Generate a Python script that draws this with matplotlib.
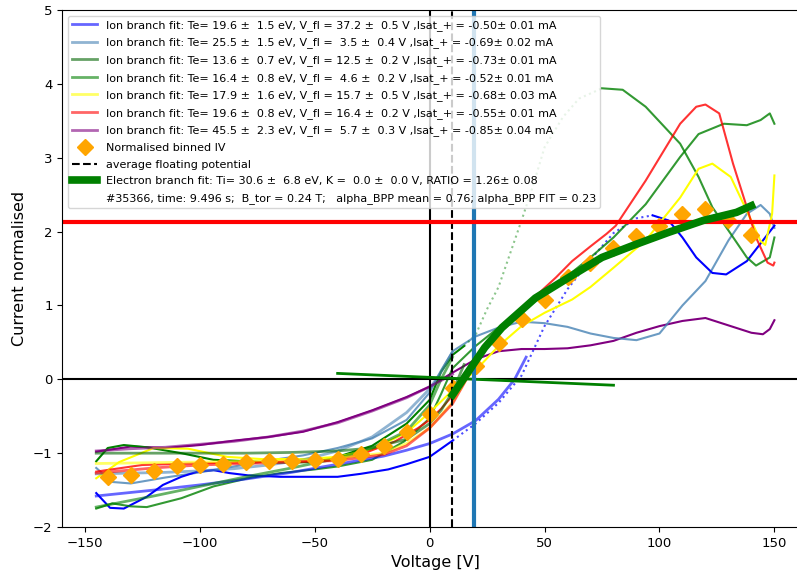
import matplotlib
matplotlib.use("Agg")
import matplotlib.pyplot as plt
from matplotlib.lines import Line2D

# ---- measured IV data (normalised current) ----
blue_v = [-145, -139, -133, -123, -116, -108, -101, -94, -87, -79, -65, -50, -40, -30, -18, -10, 0, 10, 20, 30, 40, 50, 60, 70, 80, 90, 97, 104, 110, 116, 123, 129, 138, 145, 150]
blue_i = [-1.54, -1.74, -1.75, -1.59, -1.43, -1.32, -1.25, -1.23, -1.27, -1.30, -1.32, -1.32, -1.32, -1.28, -1.22, -1.15, -1.05, -0.83, -0.60, -0.32, 0.05, 0.72, 1.22, 1.62, 1.98, 2.18, 2.22, 2.15, 1.92, 1.65, 1.44, 1.42, 1.60, 1.88, 2.08]

steel_v = [-145, -138, -130, -115, -100, -85, -70, -55, -40, -25, -10, 0, 5, 10, 20, 30, 40, 50, 60, 70, 80, 90, 100, 110, 120, 130, 138, 144, 148, 150]
steel_i = [-1.20, -1.39, -1.41, -1.33, -1.26, -1.18, -1.10, -1.03, -0.93, -0.80, -0.55, -0.18, 0.12, 0.38, 0.58, 0.70, 0.78, 0.76, 0.71, 0.62, 0.56, 0.53, 0.62, 1.00, 1.33, 1.88, 2.24, 2.36, 2.24, 2.05]

green1_v = [-145, -140, -133, -123, -108, -94, -79, -65, -50, -40, -25, -10, 0, 5, 10, 15, 20, 25, 30, 35, 40, 45, 50, 58, 65, 75, 84, 94, 109, 117, 123, 131, 138, 142, 148, 150]
green1_i = [-1.11, -0.93, -0.89, -0.92, -1.00, -1.09, -1.11, -1.13, -1.12, -1.05, -0.90, -0.60, -0.28, 0.10, 0.33, 0.45, 0.60, 0.95, 1.25, 1.70, 2.15, 2.62, 3.14, 3.55, 3.80, 3.94, 3.92, 3.69, 3.19, 2.74, 2.33, 1.97, 1.65, 1.54, 1.65, 1.92]

green2_v = [-145, -138, -130, -123, -108, -94, -79, -65, -50, -40, -25, -11, 0, 5, 10, 20, 30, 40, 50, 60, 70, 80, 94, 109, 117, 128, 138, 144, 148, 150]
green2_i = [-1.75, -1.68, -1.72, -1.73, -1.61, -1.45, -1.34, -1.27, -1.22, -1.18, -1.09, -0.84, -0.53, -0.20, 0.15, 0.45, 0.70, 0.92, 1.15, 1.40, 1.65, 1.92, 2.37, 3.01, 3.32, 3.46, 3.44, 3.51, 3.60, 3.46]

yellow_v = [-145, -135, -120, -105, -88, -73, -55, -40, -25, -10, 0, 10, 20, 30, 40, 50, 62, 70, 80, 94, 109, 117, 123, 131, 138, 144, 146, 149, 150]
yellow_i = [-1.34, -1.12, -0.93, -0.94, -1.05, -1.08, -1.08, -1.05, -0.95, -0.72, -0.45, -0.15, 0.12, 0.45, 0.72, 0.90, 1.08, 1.25, 1.51, 1.88, 2.46, 2.85, 2.92, 2.74, 2.28, 1.87, 1.82, 2.24, 2.76]

red_v = [-145, -125, -103, -73, -44, -30, -15, -5, 0, 5, 10, 15, 20, 25, 33, 40, 47, 55, 62, 70, 77, 81, 94, 109, 116, 120, 126, 132, 138, 142, 147, 149.5, 150]
red_i = [-1.25, -1.16, -1.14, -1.12, -1.10, -1.02, -0.84, -0.66, -0.55, -0.40, -0.22, 0.02, 0.30, 0.50, 0.70, 0.90, 1.15, 1.38, 1.60, 1.80, 1.97, 2.08, 2.69, 3.46, 3.69, 3.72, 3.60, 2.92, 2.33, 1.92, 1.58, 1.54, 1.58]

purple_v = [-145, -130, -115, -100, -85, -70, -55, -40, -25, -10, 0, 10, 20, 30, 40, 50, 60, 70, 80, 90, 100, 110, 120, 130, 140, 145, 148, 150]
purple_i = [-0.98, -0.91, -0.93, -0.89, -0.83, -0.78, -0.71, -0.58, -0.42, -0.24, -0.10, 0.09, 0.27, 0.38, 0.41, 0.41, 0.42, 0.46, 0.52, 0.63, 0.72, 0.79, 0.83, 0.73, 0.63, 0.61, 0.68, 0.80]

# ---- ion branch fits ----
fit_blue_v = [-145, -120, -100, -80, -60, -40, -20, -10, 0, 10, 20, 30, 37, 42]
fit_blue_i = [-1.58, -1.50, -1.43, -1.35, -1.26, -1.15, -1.04, -0.96, -0.87, -0.74, -0.56, -0.27, 0.0, 0.30]
fit_steel_v = [-145, -130, -115, -100, -85, -70, -55, -40, -25, -10, 0, 5, 10]
fit_steel_i = [-1.28, -1.27, -1.26, -1.24, -1.21, -1.16, -1.09, -0.97, -0.78, -0.45, -0.13, 0.10, 0.37]
fit_dgreen_v = [-145, -120, -100, -80, -60, -40, -25, -10, 0, 5, 10, 15]
fit_dgreen_i = [-1.0, -1.0, -1.0, -1.0, -0.99, -0.97, -0.93, -0.81, -0.60, -0.42, -0.17, 0.20]
fit_green_v = [-145, -120, -100, -80, -60, -40, -25, -10, 0, 5, 10]
fit_green_i = [-1.73, -1.58, -1.45, -1.32, -1.20, -1.07, -0.93, -0.70, -0.35, 0.0, 0.30]
fit_yellow_v = [-145, -100, -60, -40, -20, -10, 0, 10, 15, 18]
fit_yellow_i = [-1.14, -1.12, -1.10, -1.07, -1.0, -0.87, -0.66, -0.31, -0.05, 0.12]
fit_red_v = [-145, -120, -100, -80, -60, -40, -20, -10, 0, 10, 16, 20]
fit_red_i = [-1.27, -1.20, -1.16, -1.14, -1.12, -1.10, -1.02, -0.90, -0.66, -0.33, 0.0, 0.22]
fit_purple_v = [-145, -130, -115, -100, -85, -70, -55, -40, -25, -10, 0, 6, 10]
fit_purple_i = [-0.97, -0.94, -0.92, -0.88, -0.84, -0.78, -0.70, -0.59, -0.43, -0.25, -0.10, 0.0, 0.07]

# binned IV
bin_v = list(range(-140, 150, 10))
bin_i = [-1.32, -1.29, -1.24, -1.18, -1.16, -1.15, -1.12, -1.11, -1.10, -1.09, -1.08, -1.01, -0.90, -0.71, -0.47,
         -0.12, 0.18, 0.49, 0.82, 1.08, 1.38, 1.58, 1.78, 1.94, 2.07, 2.24, 2.31, 2.16, 1.96]

# electron branch fit
el_v = [10, 17, 24, 31.5, 46, 60.6, 75, 90, 104, 119, 133.5, 140]
el_i = [-0.21, 0.11, 0.43, 0.70, 1.10, 1.38, 1.65, 1.83, 1.99, 2.15, 2.26, 2.35]

slope_v = [-40, 80]
slope_i = [0.08, -0.08]

v_float_avg = 9.6
v_blue_line = 19.4
i_red_line = 2.13

fit_labels = [
    "Ion branch fit: Te= 19.6 \u00b1  1.5 eV, V_fl = 37.2 \u00b1  0.5 V ,Isat_+ = -0.50\u00b1 0.01 mA",
    "Ion branch fit: Te= 25.5 \u00b1  1.5 eV, V_fl =  3.5 \u00b1  0.4 V ,Isat_+ = -0.69\u00b1 0.02 mA",
    "Ion branch fit: Te= 13.6 \u00b1  0.7 eV, V_fl = 12.5 \u00b1  0.2 V ,Isat_+ = -0.73\u00b1 0.01 mA",
    "Ion branch fit: Te= 16.4 \u00b1  0.8 eV, V_fl =  4.6 \u00b1  0.2 V ,Isat_+ = -0.52\u00b1 0.01 mA",
    "Ion branch fit: Te= 17.9 \u00b1  1.6 eV, V_fl = 15.7 \u00b1  0.5 V ,Isat_+ = -0.68\u00b1 0.03 mA",
    "Ion branch fit: Te= 19.6 \u00b1  0.8 eV, V_fl = 16.4 \u00b1  0.2 V ,Isat_+ = -0.55\u00b1 0.01 mA",
    "Ion branch fit: Te= 45.5 \u00b1  2.3 eV, V_fl =  5.7 \u00b1  0.3 V ,Isat_+ = -0.85\u00b1 0.04 mA",
]
el_label = "Electron branch fit: Ti= 30.6 \u00b1  6.8 eV, K =  0.0 \u00b1  0.0 V, RATIO = 1.26\u00b1 0.08"
info_label = "#35366, time: 9.496 s;  B_tor = 0.24 T;   alpha_BPP mean = 0.76; alpha_BPP FIT = 0.23"

fig = plt.figure(figsize=(7.97, 5.71), dpi=100)
ax = fig.add_axes([0.0782, 0.077, 0.936, 0.9055])

# raw data curves
ax.plot(purple_v, purple_i, color="purple", lw=1.5)
ax.plot(steel_v, steel_i, color="steelblue", lw=1.5, alpha=0.8)
ax.plot(blue_v[:18], blue_i[:18], color="blue", lw=1.5)
ax.plot(blue_v[17:27], blue_i[17:27], color="blue", lw=1.5, ls=":", alpha=0.7)
ax.plot(blue_v[26:], blue_i[26:], color="blue", lw=1.5)
ax.plot(green1_v[:16], green1_i[:16], color="green", lw=1.5)
ax.plot(green1_v[15:26], green1_i[15:26], color="green", lw=1.5, ls=":", alpha=0.45)
ax.plot(green1_v[25:], green1_i[25:], color="green", lw=1.5, alpha=0.8)
ax.plot(green2_v, green2_i, color="green", lw=1.5, alpha=0.8)
ax.plot(yellow_v, yellow_i, color="yellow", lw=1.5)
ax.plot(red_v, red_i, color="red", lw=1.5, alpha=0.8)

# ion branch fits
fit_v = [fit_blue_v, fit_steel_v, fit_dgreen_v, fit_green_v, fit_yellow_v, fit_red_v, fit_purple_v]
fit_i = [fit_blue_i, fit_steel_i, fit_dgreen_i, fit_green_i, fit_yellow_i, fit_red_i, fit_purple_i]
fit_colors = ["blue", "steelblue", "darkgreen", "green", "yellow", "red", "purple"]
handles = []
for v, i, c, lab in zip(fit_v, fit_i, fit_colors, fit_labels):
    h, = ax.plot(v, i, color=c, lw=2, alpha=0.6, label=lab)
    handles.append(h)

h_bin, = ax.plot(bin_v, bin_i, "D", color="orange", ms=8, ls="none", label="Normalised binned IV")
h_vf = ax.axvline(v_float_avg, color="black", ls="--", lw=1.5, label="average floating potential")
ax.axvline(0, color="black", lw=1.5)
ax.axhline(0, color="black", lw=1.5)
ax.plot(slope_v, slope_i, color="green", lw=2)
h_el, = ax.plot(el_v, el_i, color="green", lw=5.5, label=el_label, zorder=4)
ax.axvline(v_blue_line, color="tab:blue", lw=3)
ax.axhline(i_red_line, color="red", lw=3)
h_info = Line2D([], [], ls="none", label=info_label)

handles += [h_bin, h_vf, h_el, h_info]
ax.legend(handles=handles, loc="upper left", fontsize=8.0, handlelength=2.2, labelspacing=0.6)

ax.set_xlim(-159.75, 164.75)
ax.set_ylim(-2, 5)
ax.set_xticks([-150, -100, -50, 0, 50, 100, 150])
ax.tick_params(labelsize=9.5)
ax.set_xlabel("Voltage [V]", fontsize=11.5)
ax.set_ylabel("Current normalised", fontsize=11.5)

fig.savefig("out.png", dpi=100)
